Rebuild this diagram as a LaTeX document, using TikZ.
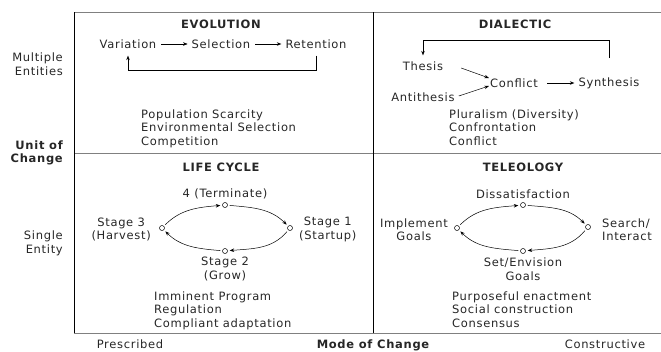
\documentclass[tikz,border=0pt]{standalone}
\usepackage{fontspec}
\setmainfont{DejaVu Sans}[LetterSpace=6]
\usetikzlibrary{arrows.meta}

\newcommand{\txtsize}{\fontsize{11.5}{13.5}\selectfont}

\tikzset{
  lbl/.style={inner sep=1pt, text=black!85},
  head/.style={lbl, font=\txtsize\bfseries},
  lst/.style={lbl, inner sep=0pt, anchor=north west, align=left},
  stg/.style={draw, circle, inner sep=0pt, minimum size=5pt, line width=0.5pt, fill=white},
  arr/.style={-{Stealth[length=4.5pt,width=3.5pt]}, line width=0.5pt},
  cyc/.style={arr, shorten <=2pt, shorten >=2pt},
  hline/.style={black!50, line width=0.9pt},
  vline/.style={black, line width=0.6pt}
}

\begin{document}
\begin{tikzpicture}[x=1pt, y=-1pt, every node/.append style={font=\txtsize}]
    \useasboundingbox (0,0) rectangle (661,351);
    % frame
    \foreach \y in {12,153,333} \draw[hline] (74,\y) -- (661,\y);
    \foreach \x in {74,373} \draw[vline] (\x,12) -- (\x,333);

    % axes
    \node[lbl, align=right, anchor=east] (multi) at (64,64) {Multiple\\Entities};
    \node[head, align=right, anchor=east] (unit) at (64,153) {Unit of\\Change};
    \node[lbl, align=right, anchor=east] (single) at (64,243.5) {Single\\Entity};
    \node[lbl, anchor=base] (presc) at (130,348) {Prescribed};
    \node[head, anchor=base] (mode) at (373,348) {Mode of Change};
    \node[lbl, anchor=base] (constr) at (605,348) {Constructive};

    % evolution
    \node[head] (evo) at (221,24) {EVOLUTION};
    \node[lbl] (var) at (128,44) {Variation};
    \node[lbl] (sel) at (221,44) {Selection};
    \node[lbl] (ret) at (316,44) {Retention};
    \draw[arr, shorten <=4pt, shorten >=3pt] (var) -- (sel);
    \draw[arr, shorten <=4pt, shorten >=3pt] (sel) -- (ret);
    \draw[arr, shorten <=6pt, shorten >=6pt] (ret) -- (ret |- 0,70) -| (var);
    \node[lst] (evolist) at (141,109.5) {Population Scarcity\\Environmental Selection\\Competition};

    % dialectic
    \node[head] (dia) at (515,24) {DIALECTIC};
    \node[lbl] (the) at (423,66) {Thesis};
    \node[lbl] (ant) at (423,97) {Antithesis};
    \node[lbl] (con) at (514,83) {Conflict};
    \node[lbl] (syn) at (609,83) {Synthesis};
    \draw[arr] ([xshift=17pt,yshift=-2pt]the.east) -- ([yshift=5pt]con.west);
    \draw[arr] ([xshift=3pt,yshift=1pt]ant.east) -- ([yshift=-3pt]con.west);
    \draw[arr, shorten <=8pt, shorten >=3pt] (con) -- (syn);
    \draw[arr, shorten <=18pt, shorten >=5pt] (syn) -- (syn |- 0,40) -| (the);
    \node[lst] (dialist) at (449,109.5) {Pluralism (Diversity)\\Confrontation\\Conflict};

    % life cycle
    \node[head] (life) at (221,167) {LIFE CYCLE};
    \node[stg] (lc4) at (225,205) {};
    \node[stg] (lc3) at (162,228) {};
    \node[stg] (lc1) at (290,228) {};
    \node[stg] (lc2) at (225,251) {};
    \node[lbl] (t4) at (225,194) {4 (Terminate)};
    \node[lbl, align=center, anchor=east] (t3) at (152,229.5) {Stage 3\\(Harvest)};
    \node[lbl, align=center, anchor=west] (t1) at (298,229.5) {Stage 1\\(Startup)};
    \node[lbl, align=center] (t2) at (225,269) {Stage 2\\(Grow)};
    \node[lst] (lifelist) at (154,291.5) {Imminent Program\\Regulation\\Compliant adaptation};

    % teleology
    \node[head] (tel) at (523,167) {TELEOLOGY};
    \node[stg] (tl4) at (523,205) {};
    \node[stg] (tl3) at (457,228) {};
    \node[stg] (tl1) at (588,227) {};
    \node[stg] (tl2) at (523,251) {};
    \node[lbl] (dis) at (523,194) {Dissatisfaction};
    \node[lbl, align=center, anchor=east] (imp) at (449,229.5) {Implement\\Goals};
    \node[lbl, align=left, anchor=west] (sea) at (601,229.5) {Search/\\Interact};
    \node[lbl, align=center] (env) at (523,269) {Set/Envision\\Goals};
    \node[lst] (tellist) at (452,291.5) {Purposeful enactment\\Social construction\\Consensus};

    % cycles
    \foreach \c in {lc,tl} {
      \draw[cyc] (\c3) to[out=45,in=185] (\c4);
      \draw[cyc] (\c4) to[out=-5,in=135] (\c1);
      \draw[cyc] (\c1) to[out=-130,in=5] (\c2);
      \draw[cyc] (\c2) to[out=175,in=-45] (\c3);
    }
  \end{tikzpicture}
\end{document}
